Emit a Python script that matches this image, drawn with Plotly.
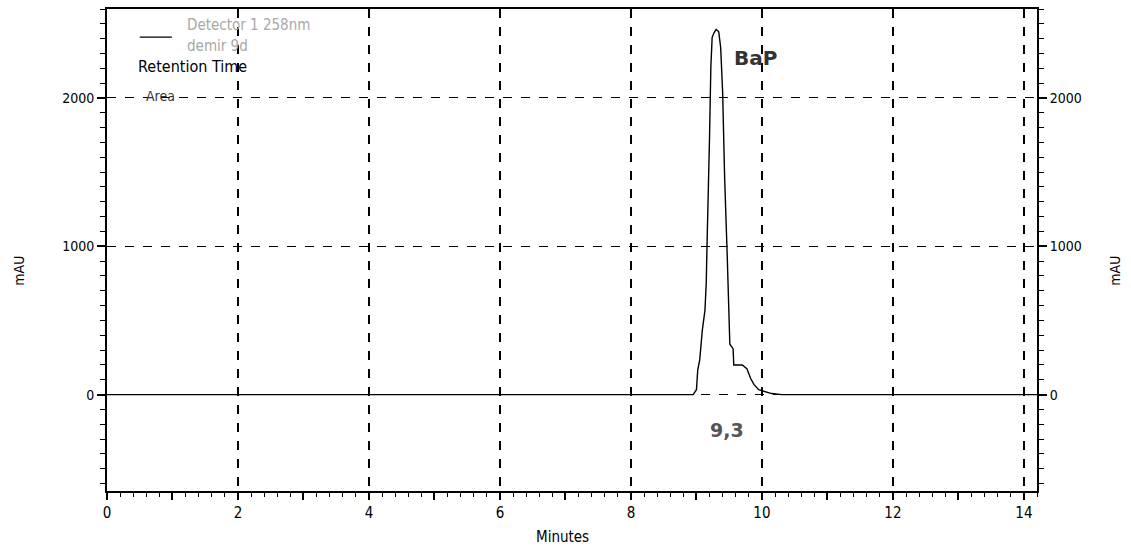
import plotly.graph_objects as go

# Chromatogram trace (minutes, mAU)
minutes = [0.0, 4.0, 8.0, 8.95, 9.0, 9.02, 9.05, 9.09, 9.13, 9.15, 9.16, 9.18, 9.2,
           9.22, 9.24, 9.27, 9.3, 9.34, 9.37, 9.4, 9.43, 9.47, 9.5, 9.51, 9.56,
           9.57, 9.7, 9.77, 9.83, 9.88, 9.95, 10.06, 10.15, 10.3, 12.0, 14.2]
mau = [0, 0, 0, 0, 33, 167, 234, 435, 568, 756, 977, 1291, 1739,
       2207, 2408, 2441, 2461, 2448, 2341, 2040, 1471, 936, 540, 340, 310,
       200, 200, 174, 107, 67, 33, 20, 7, 0, 0, 0]

x_ticks = list(range(0, 15))
x_tick_labels = [str(v) if v % 2 == 0 else "" for v in x_ticks]
x_grid = [2, 4, 6, 8, 10, 12, 14]
y_ticks = [0, 1000, 2000]
y_tick_labels = ["0", "1000", "2000"]

peak_name = "BaP"
peak_label = "9,3"
legend_lines = ["Detector 1 258nm", "demir 9d"]
legend_fields = ["Retention Time", "Area"]

FONT = "Liberation Sans Narrow, DejaVu Sans Condensed, Arial, sans-serif"
WIDE = "DejaVu Sans, Verdana, sans-serif"

fig = go.Figure()
fig.add_trace(go.Scatter(x=minutes, y=mau, mode="lines",
                         line=dict(color="black", width=1.4), showlegend=False,
                         hoverinfo="skip"))
# invisible traces to activate the extra axes
fig.add_trace(go.Scatter(x=[0], y=[0], yaxis="y2", mode="lines",
                         line=dict(width=0), showlegend=False, hoverinfo="skip"))
fig.add_trace(go.Scatter(x=[0], y=[0], xaxis="x2", mode="lines",
                         line=dict(width=0), showlegend=False, hoverinfo="skip"))

yr = [-650, 2600]
xr = [0, 14.2]

fig.update_layout(
    width=1131, height=556,
    margin=dict(l=107, r=94, t=7, b=65),
    paper_bgcolor="white", plot_bgcolor="white",
    font=dict(family=FONT, size=14, color="black"),
    xaxis=dict(range=xr, tickvals=x_ticks, ticktext=x_tick_labels,
               showline=True, linecolor="black", linewidth=2, mirror=True,
               ticks="outside", ticklen=7, tickwidth=1.5, tickcolor="black",
               minor=dict(dtick=0.2, ticks="outside", ticklen=4, tickcolor="black",
                          tickwidth=1, showgrid=False),
               showgrid=False, zeroline=False, tickfont=dict(size=15, family=FONT)),
    xaxis2=dict(range=xr, overlaying="x", side="bottom", tickvals=x_grid,
                showticklabels=False, ticks="", showline=False,
                showgrid=True, gridcolor="black", gridwidth=1.6, griddash="dash",
                zeroline=False),
    yaxis=dict(range=yr, tickvals=y_ticks, ticktext=y_tick_labels,
               showline=True, linecolor="black", linewidth=2,
               ticks="outside", ticklen=8, tickwidth=1.5, tickcolor="black",
               minor=dict(dtick=100, ticks="outside", ticklen=5, tickcolor="black",
                          tickwidth=1, showgrid=False),
               showgrid=True, gridcolor="black", gridwidth=1.2, griddash="dash",
               zeroline=False, tickfont=dict(size=14, family=FONT)),
    yaxis2=dict(range=yr, tickvals=y_ticks, ticktext=y_tick_labels,
                overlaying="y", side="right",
                showline=True, linecolor="black", linewidth=2,
                ticks="outside", ticklen=8, tickwidth=1.5, tickcolor="black",
                minor=dict(dtick=100, ticks="outside", ticklen=5, tickcolor="black",
                           tickwidth=1, showgrid=False),
                showgrid=False, zeroline=False, tickfont=dict(size=14, family=FONT)),
)

ann = []
# axis titles
ann.append(dict(text="Minutes", xref="paper", yref="paper", x=0.5, y=0.0,
                xanchor="center", yanchor="middle", yshift=-46, xshift=-10,
                showarrow=False, font=dict(size=15, family=FONT)))
ann.append(dict(text="mAU", xref="paper", yref="paper", x=0, y=0.457,
                xanchor="center", yanchor="middle", xshift=-88, textangle=-90,
                showarrow=False, font=dict(size=14, family=FONT)))
ann.append(dict(text="mAU", xref="paper", yref="paper", x=1, y=0.457,
                xanchor="center", yanchor="middle", xshift=78, textangle=-90,
                showarrow=False, font=dict(size=14, family=FONT)))
# peak annotations
ann.append(dict(text="<b>" + peak_name + "</b>", x=9.9, y=2270, xref="x", yref="y",
                showarrow=False, font=dict(size=20, color="#333333", family=WIDE)))
ann.append(dict(text="<b>" + peak_label + "</b>", x=9.47, y=-240, xref="x", yref="y",
                showarrow=False, font=dict(size=19, color="#555555", family=WIDE)))
# legend block
ann.append(dict(text=legend_lines[0], x=1.19, y=2490, xref="x", yref="y", xanchor="left",
                showarrow=False, font=dict(size=15, color="#a8a8a8", family=FONT)))
ann.append(dict(text=legend_lines[1], x=1.19, y=2350, xref="x", yref="y", xanchor="left",
                showarrow=False, font=dict(size=15, color="#a8a8a8", family=FONT)))
ann.append(dict(text=legend_fields[0], x=0.44, y=2210, xref="x", yref="y", xanchor="left",
                showarrow=False, font=dict(size=16, color="black", family=FONT)))
ann.append(dict(text=legend_fields[1], x=0.56, y=2015, xref="x", yref="y", xanchor="left",
                showarrow=False, font=dict(size=14, color="#333333", family=FONT)))
fig.update_layout(annotations=ann)

# legend swatch line
fig.add_shape(type="line", x0=0.5, x1=0.99, y0=2410, y1=2410, xref="x", yref="y",
              line=dict(color="black", width=1.3))

fig.write_html("out.html")
